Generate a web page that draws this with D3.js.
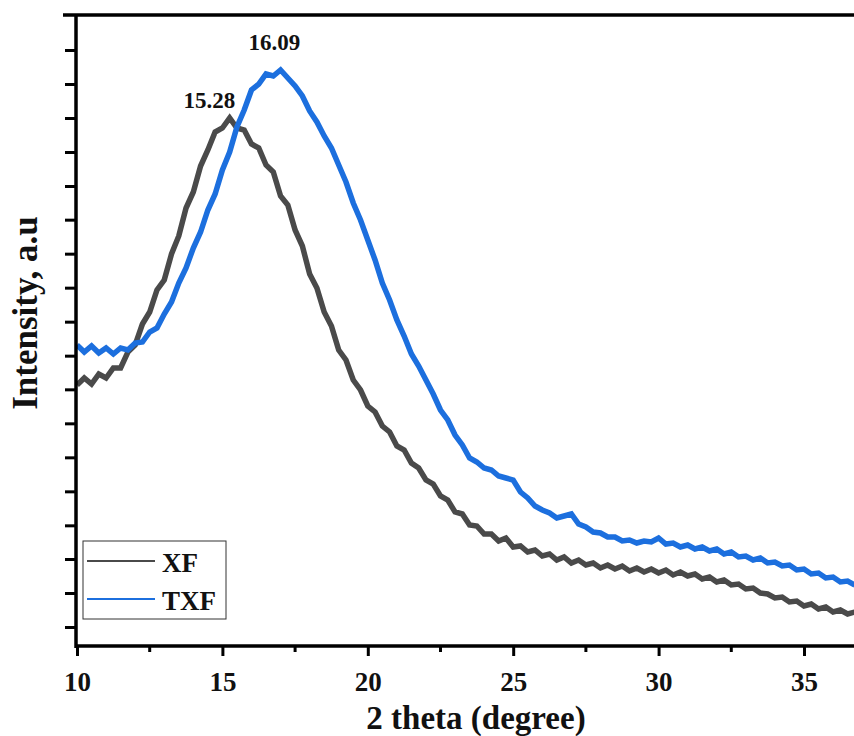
<!DOCTYPE html>
<html>
<head>
<meta charset="utf-8">
<script src="https://cdn.jsdelivr.net/npm/d3@7"></script>
<style>
  body { margin: 0; background: #fff; }
  svg text { font-family: "Liberation Serif", "Times New Roman", serif; font-weight: bold; fill: #111; }
</style>
</head>
<body>
<svg width="854" height="736"></svg>
<script>
const theta = d3.range(10, 36.76, 0.25);

const xfValues = [
  783, 804, 786, 816, 804, 834, 834, 882, 903, 966, 1002, 1068, 1098, 1176, 1230, 1314,
  1362, 1440, 1488, 1542, 1554, 1584, 1554, 1548, 1506, 1494, 1443, 1422, 1350, 1323, 1248, 1200,
  1116, 1074, 1002, 960, 888, 858, 798, 768, 720, 702, 660, 642, 600, 588, 549, 534,
  498, 486, 450, 438, 402, 396, 363, 360, 336, 336, 315, 324, 297, 300, 282, 288,
  270, 276, 258, 267, 249, 258, 243, 249, 234, 243, 231, 240, 225, 234, 222, 231,
  219, 228, 213, 222, 210, 216, 201, 207, 192, 198, 183, 186, 171, 174, 159, 156,
  144, 147, 132, 135, 120, 126, 111, 117, 102, 108, 96, 102
];

const txfValues = [
  903, 882, 900, 879, 894, 876, 894, 888, 909, 912, 942, 954, 996, 1032, 1089, 1134,
  1194, 1242, 1308, 1356, 1428, 1482, 1557, 1608, 1668, 1686, 1716, 1710, 1728, 1704, 1680, 1650,
  1605, 1572, 1530, 1494, 1443, 1392, 1329, 1278, 1218, 1158, 1089, 1038, 978, 930, 876, 840,
  798, 756, 708, 678, 633, 603, 564, 552, 534, 528, 510, 504, 498, 462, 444, 420,
  408, 399, 384, 390, 396, 366, 357, 342, 339, 327, 327, 315, 318, 309, 315, 312,
  324, 306, 309, 297, 303, 291, 297, 285, 291, 276, 282, 267, 270, 258, 264, 249,
  252, 240, 243, 228, 231, 216, 219, 204, 207, 192, 195, 183
];

const seriesNames = ["XF", "TXF"];
const seriesColors = ["#4a4a4a", "#1c6fde"];
const xTicks = [10, 15, 20, 25, 30, 35];
const xMinorTicks = [12.5, 17.5, 22.5, 27.5, 32.5];
const yTicks = [57, 159, 261, 362, 464, 566, 668, 770, 871, 973, 1075, 1177, 1279, 1380, 1482, 1584, 1686, 1788];
const peakLabels = [
  {text: "15.28", at: 14.55, value: 1615},
  {text: "16.09", at: 16.79, value: 1788}
];

const svg = d3.select("svg");
const mLeft = 77, mRight = 854, mTop = 15, mBottom = 646;

const x = d3.scaleLinear().domain([10, 36.72]).range([mLeft, mRight]);
const y = d3.scaleLinear().domain([0, 1893]).range([mBottom, mTop]);

svg.append("clipPath").attr("id", "plot")
  .append("rect").attr("x", mLeft).attr("y", mTop).attr("width", mRight - mLeft).attr("height", mBottom - mTop);

const line = d3.line()
  .x((d, i) => x(theta[i]))
  .y(d => y(d));

// noisy traces look like a heavy band, so draw them wide
const plot = svg.append("g").attr("clip-path", "url(#plot)");
[xfValues, txfValues].forEach((vals, k) => {
  plot.append("path")
    .attr("d", line(vals))
    .attr("fill", "none")
    .attr("stroke", seriesColors[k])
    .attr("stroke-width", 5.5)
    .attr("stroke-linejoin", "miter");
});

// y ticks (no labels)
const yAxis = svg.append("g")
  .attr("transform", `translate(${mLeft},0)`)
  .call(d3.axisLeft(y).tickValues(yTicks).tickSize(12).tickSizeOuter(0).tickFormat(""));
yAxis.select(".domain").remove();
yAxis.selectAll(".tick line").attr("stroke", "#000").attr("stroke-width", 3);

// x axis
const xAxis = svg.append("g")
  .attr("transform", `translate(0,${mBottom})`)
  .call(d3.axisBottom(x).tickValues(xTicks).tickSize(10).tickSizeOuter(0).tickPadding(16).tickFormat(d3.format("d")));
xAxis.select(".domain").remove();
xAxis.selectAll(".tick line").attr("stroke", "#000").attr("stroke-width", 3);
xAxis.selectAll(".tick text")
  .attr("font-size", 27).attr("fill", "#111")
  .style("font-family", "Liberation Serif, serif").style("font-weight", "bold");

svg.append("g").selectAll("line").data(xMinorTicks).join("line")
  .attr("x1", d => x(d)).attr("x2", d => x(d))
  .attr("y1", mBottom).attr("y2", mBottom + 6)
  .attr("stroke", "#000").attr("stroke-width", 3);

// frame
svg.append("line").attr("x1", 63).attr("x2", mRight).attr("y1", mTop).attr("y2", mTop)
  .attr("stroke", "#000").attr("stroke-width", 3.5);
svg.append("line").attr("x1", mLeft - 1).attr("x2", mLeft - 1).attr("y1", mTop - 1).attr("y2", mBottom + 2)
  .attr("stroke", "#000").attr("stroke-width", 3.5);
svg.append("line").attr("x1", mLeft - 2).attr("x2", mRight).attr("y1", mBottom).attr("y2", mBottom)
  .attr("stroke", "#000").attr("stroke-width", 3.5);

// peak labels
svg.append("g").selectAll("text").data(peakLabels).join("text")
  .attr("x", d => x(d.at)).attr("y", d => y(d.value))
  .attr("text-anchor", "middle").attr("font-size", 23)
  .text(d => d.text);

// axis titles
svg.append("text").attr("x", 476).attr("y", 729)
  .attr("text-anchor", "middle").attr("font-size", 33)
  .text("2 theta (degree)");
svg.append("text")
  .attr("transform", "translate(37,313) rotate(-90)")
  .attr("text-anchor", "middle").attr("font-size", 35)
  .text("Intensity, a.u");

// legend
const legend = svg.append("g");
legend.append("rect").attr("x", 83).attr("y", 541).attr("width", 143).attr("height", 78)
  .attr("fill", "#fff").attr("stroke", "#333").attr("stroke-width", 1);
seriesNames.forEach((name, i) => {
  const ly = 561 + i * 38;
  legend.append("line").attr("x1", 87).attr("x2", 155).attr("y1", ly).attr("y2", ly)
    .attr("stroke", seriesColors[i]).attr("stroke-width", 2);
  legend.append("text").attr("x", 162).attr("y", ly + 11)
    .attr("font-size", 27).text(name);
});
</script>
</body>
</html>
